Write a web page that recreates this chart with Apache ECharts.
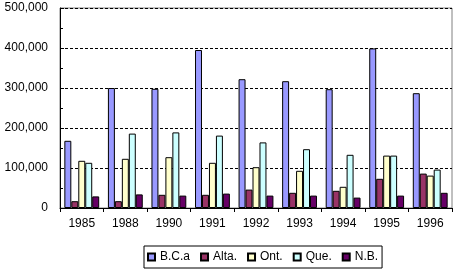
<!DOCTYPE html>
<html>
<head>
<meta charset="utf-8">
<script src="https://cdn.jsdelivr.net/npm/echarts@6/dist/echarts.min.js"></script>
<style>
html,body{margin:0;padding:0;background:#fff;}
#chart{width:458px;height:275px;}
</style>
</head>
<body>
<div id="chart"></div>
<script>
var categories = ['1985','1988','1990','1991','1992','1993','1994','1995','1996'];
var seriesNames = ['B.C.a','Alta.','Ont.','Que.','N.B.'];
var bca  = [168000, 300000, 298000, 395000, 322000, 317000, 297000, 399000, 287000];
var alta = [17000, 17000, 33000, 33000, 46000, 38000, 43000, 73000, 86000];
var ont  = [118000, 123000, 127000, 113000, 102000, 93000, 53000, 131000, 81000];
var que  = [113000, 186000, 189000, 181000, 164000, 147000, 133000, 131000, 96000];
var nb   = [29000, 34000, 31000, 36000, 31000, 31000, 26000, 31000, 38000];
var yTicks = [0, 100000, 200000, 300000, 400000, 500000];
var colors = ['#9999FF','#993366','#FFFFCC','#CCFFFF','#660066'];
var values = [bca, alta, ont, que, nb];

var font = 'Liberation Sans, Arial, sans-serif';
var chart = echarts.init(document.getElementById('chart'), null, {renderer:'canvas'});
chart.setOption({
  animation: false,
  backgroundColor: '#fff',
  textStyle: {fontFamily: font},
  grid: {left: 60, right: 6, top: 8, bottom: 67, show: true, borderColor: '#808080', borderWidth: 1, backgroundColor: '#fff'},
  legend: {
    left: 144, top: 246,
    borderColor: '#000', borderWidth: 1,
    padding: [5, 4, 5, 3],
    itemWidth: 7, itemHeight: 7, itemGap: 10,
    icon: 'rect',
    textStyle: {fontFamily: font, fontSize: 12, color: '#000'},
    data: seriesNames
  },
  xAxis: {
    type: 'category',
    data: categories,
    axisLine: {lineStyle: {color: '#000', width: 1}},
    axisTick: {show: true, length: 4, lineStyle: {color: '#000'}},
    axisLabel: {fontFamily: font, fontSize: 12, color: '#000', margin: 10},
    splitLine: {show: false}
  },
  yAxis: {
    type: 'value',
    min: yTicks[0], max: yTicks[yTicks.length-1], interval: 100000,
    axisLine: {show: true, lineStyle: {color: '#000', width: 1}},
    axisTick: {show: true, inside: true, length: 4, lineStyle: {color: '#000'}},
    minorTick: {show: true, splitNumber: 2, length: 3, lineStyle: {color: '#000'}},
    axisLabel: {fontFamily: font, fontSize: 12, color: '#000', margin: 12,
      formatter: function(v){ return v.toLocaleString('en-US'); }},
    splitLine: {show: true, lineStyle: {color: '#000', type: [3,2], width: 1}}
  },
  series: seriesNames.map(function(n, i){
    return {
      name: n, type: 'bar', data: values[i],
      barGap: '0%', barCategoryGap: '20%',
      itemStyle: {color: colors[i], borderColor: '#000', borderWidth: 1}
    };
  })
});
</script>
</body>
</html>
